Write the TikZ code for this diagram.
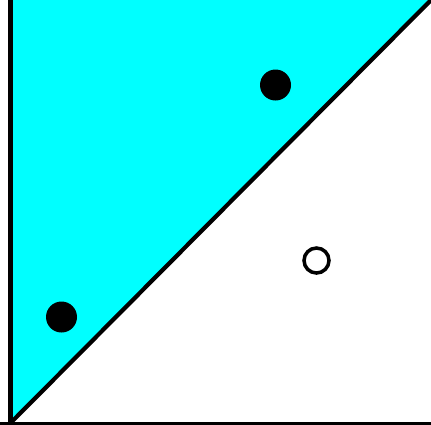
\documentclass[tikz,border=0pt]{standalone}
\definecolor{aqua}{RGB}{0,255,255}
\begin{document}
\begin{tikzpicture}[x=0.02cm,y=-0.02cm,
  edge/.style={line width=2.4pt,black},
  dotfill/.style={fill=black},
  dotopen/.style={draw=black,line width=2pt,fill=white}]
\useasboundingbox (0,0) rectangle (431,424);
\clip (0,0) rectangle (431,424);
\fill[aqua] (10.5,-5) -- (10.5,423) -- (436,-5) -- cycle;
\draw[edge] (10.5,-5) -- (10.5,424);
\draw[edge] (10.5,423) -- (436,-5);
\draw[line width=1.8pt] (0,423.5) -- (431,423.5);
\fill[dotfill] (275.5,85) circle (15.5);
\fill[dotfill] (61.5,317) circle (15.5);
\draw[dotopen] (316.5,260.5) circle (12.5);
\end{tikzpicture}
\end{document}
